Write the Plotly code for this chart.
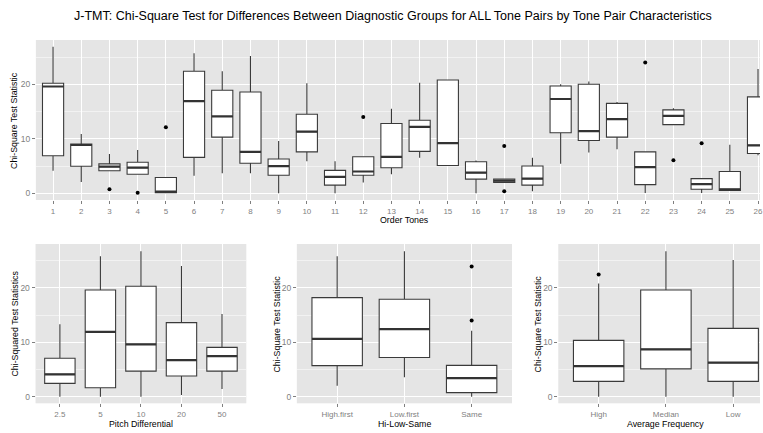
import plotly.graph_objects as go

W, H = 763, 433

# ---------------- data ----------------
order_tones = list(range(1, 27))
ot_lo  = [4.15, 2.07, 4.15, 3.5, 0.1, 3.2, 3.7, 3.7, 0.0, 5.9, 0.0, 2.0, 3.5, 6.5, 5.1, 0.0, 2.0, 0.37, 5.4, 7.5, 8.1, 0.05, 12.6, 0.05, 0.5, 7.0]
ot_q1  = [6.9, 4.95, 4.15, 3.5, 0.1, 6.6, 10.3, 5.5, 3.3, 7.6, 1.5, 3.3, 4.7, 7.7, 5.1, 2.6, 2.0, 1.5, 11.1, 9.7, 10.3, 1.6, 12.6, 0.73, 0.5, 7.3]
ot_med = [19.6, 8.86, 4.9, 4.7, 0.3, 16.9, 14.1, 7.6, 5.0, 11.3, 3.0, 4.0, 6.7, 12.2, 9.2, 3.8, 2.3, 2.7, 17.3, 11.4, 13.6, 4.8, 14.2, 1.7, 0.73, 8.8]
ot_q3  = [20.2, 9.05, 5.4, 5.7, 2.9, 22.4, 18.9, 18.6, 6.3, 14.5, 4.2, 6.7, 12.8, 13.4, 20.8, 5.8, 2.6, 5.0, 19.7, 20.0, 16.5, 7.6, 15.3, 2.7, 4.0, 17.7]
ot_hi  = [26.9, 10.9, 7.2, 7.95, 2.9, 25.7, 22.4, 25.2, 9.6, 20.2, 5.9, 6.7, 15.5, 20.3, 20.8, 6.0, 2.6, 6.5, 20.0, 20.5, 16.75, 7.6, 15.6, 2.7, 8.9, 22.8]
ot_out_x = [3, 4, 5, 12, 17, 17, 22, 23, 24]
ot_out_y = [0.73, 0.1, 12.1, 14.0, 8.7, 0.37, 24.0, 6.05, 9.2]

pitch_cats = ["2.5", "5", "10", "20", "50"]
pd_lo  = [0.0, 0.0, 0.0, 0.3, 1.4]
pd_q1  = [2.45, 1.65, 4.7, 3.8, 4.7]
pd_med = [4.1, 11.9, 9.6, 6.7, 7.45]
pd_q3  = [7.05, 19.6, 20.3, 13.6, 9.05]
pd_hi  = [13.3, 25.8, 26.7, 24.0, 15.2]
pd_out_x, pd_out_y = [], []

hls_cats = ["High.first", "Low.first", "Same"]
hl_lo  = [2.0, 3.55, 0.0]
hl_q1  = [5.7, 7.2, 0.75]
hl_med = [10.6, 12.4, 3.4]
hl_q3  = [18.2, 17.9, 5.75]
hl_hi  = [25.8, 26.7, 12.1]
hl_out_x = ["Same", "Same"]
hl_out_y = [23.9, 14.0]

freq_cats = ["High", "Median", "Low"]
af_lo  = [0.0, 0.0, 0.0]
af_q1  = [2.8, 5.1, 2.8]
af_med = [5.6, 8.7, 6.25]
af_q3  = [10.35, 19.6, 12.55]
af_hi  = [20.8, 26.7, 25.1]
af_out_x = ["High"]
af_out_y = [22.45]

# ---------------- styling ----------------
BOX_LINE = "#3a3a3a"
TICK_COL = "#7F7F7F"
FONT = "Liberation Sans, Arial, sans-serif"
BW = 0.75

fig = go.Figure()

def px_x(p):
    return p / W

def px_y(p):
    return 1 - p / H

def add_panel(idx, cats, lo, q1, med, q3, hi, out_x, out_y):
    pos = list(range(1, len(cats) + 1))
    xa = "x" if idx == 1 else f"x{idx}"
    ya = "y" if idx == 1 else f"y{idx}"
    fig.add_trace(go.Box(
        x=pos, q1=q1, median=med, q3=q3, lowerfence=lo, upperfence=hi,
        width=BW, fillcolor="white", line=dict(color=BOX_LINE, width=1.1),
        whiskerwidth=0, boxpoints=False, xaxis=xa, yaxis=ya, showlegend=False,
        hoverinfo="skip"))
    mx, my = [], []
    for p, m in zip(pos, med):
        mx += [p - BW / 2, p + BW / 2, None]
        my += [m, m, None]
    fig.add_trace(go.Scatter(x=mx, y=my, mode="lines",
                             line=dict(color="#333333", width=2.2),
                             xaxis=xa, yaxis=ya, showlegend=False, hoverinfo="skip"))
    if out_x:
        ox = [cats.index(c) + 1 for c in out_x]
        fig.add_trace(go.Scatter(x=ox, y=out_y, mode="markers",
                                 marker=dict(color="black", size=4),
                                 xaxis=xa, yaxis=ya, showlegend=False, hoverinfo="skip"))

add_panel(1, order_tones, ot_lo, ot_q1, ot_med, ot_q3, ot_hi, ot_out_x, ot_out_y)
add_panel(2, pitch_cats, pd_lo, pd_q1, pd_med, pd_q3, pd_hi, pd_out_x, pd_out_y)
add_panel(3, hls_cats, hl_lo, hl_q1, hl_med, hl_q3, hl_hi, hl_out_x, hl_out_y)
add_panel(4, freq_cats, af_lo, af_q1, af_med, af_q3, af_hi, af_out_x, af_out_y)

def xaxis(domain, rng, labels, anchor):
    return dict(domain=domain, range=rng, tickmode="array",
                tickvals=list(range(1, len(labels) + 1)),
                ticktext=[str(l) for l in labels],
                showgrid=True, gridcolor="white", gridwidth=1.1, zeroline=False,
                showline=False, ticks="outside", ticklen=3, tickcolor=TICK_COL,
                tickwidth=1, tickfont=dict(size=8, color=TICK_COL, family=FONT),
                ticklabeloverflow="allow",
                anchor=anchor, fixedrange=True)

def yaxis(domain, rng, anchor):
    return dict(domain=domain, range=rng, tickmode="array", tickvals=[0, 10, 20],
                showgrid=True, gridcolor="white", gridwidth=1.1, zeroline=False,
                showline=False, ticks="outside", ticklen=3, tickcolor=TICK_COL,
                tickwidth=1, tickfont=dict(size=8.5, color=TICK_COL, family=FONT),
                minor=dict(tickvals=[5, 15, 25], showgrid=True, gridcolor="#F2F2F2",
                           gridwidth=0.6, ticks=""),
                anchor=anchor, fixedrange=True)

top_dom_y = [px_y(200), px_y(40)]
bot_dom_y = [px_y(403.3), px_y(244)]

fig.update_layout(
    width=W, height=H, margin=dict(l=0, r=0, t=0, b=0),
    paper_bgcolor="white", plot_bgcolor="#E5E5E5",
    font=dict(family=FONT, color="black"),
    xaxis=xaxis([px_x(36), 1.0], [0.39, 26.07], order_tones, "y"),
    yaxis=yaxis(top_dom_y, [-1.23, 28.13], "x"),
    xaxis2=xaxis([px_x(35.7), px_x(247.3)], [0.4, 5.6], pitch_cats, "y2"),
    yaxis2=yaxis(bot_dom_y, [-1.22, 28.05], "x2"),
    xaxis3=xaxis([px_x(298), px_x(514)], [0.4, 3.6], hls_cats, "y3"),
    yaxis3=yaxis(bot_dom_y, [-1.22, 28.05], "x3"),
    xaxis4=xaxis([px_x(560.5), 1.0], [0.4, 3.0 + (763 - 736) / 67.7], freq_cats, "y4"),
    yaxis4=yaxis(bot_dom_y, [-1.22, 28.05], "x4"),
)

ann = []
def text(x, y, s, size, angle=0):
    ann.append(dict(x=px_x(x), y=px_y(y), xref="paper", yref="paper", text=s,
                    showarrow=False, textangle=angle, xanchor="center", yanchor="middle",
                    font=dict(size=size, color="black", family=FONT)))

text(395, 16, "J-TMT: Chi-Square Test for Differences Between Diagnostic Groups for ALL Tone Pairs by Tone Pair Characteristics", 12.5)
text(406, 220, "Order Tones", 8.8)
text(14, 120, "Chi-Square Test Statistic", 8.8, -90)
text(141.5, 424, "Pitch Differential", 8.8)
text(15, 323.6, "Chi-Squared Test Statistics", 8.8, -90)
text(406, 424, "Hi-Low-Same", 8.8)
text(278, 323.6, "Chi-Square Test Statistic", 8.8, -90)
text(668, 424, "Average Frequency", 8.8)
text(540, 323.6, "Chi-Square Test Statistic", 8.8, -90)
fig.update_layout(annotations=ann)

fig.write_html("out.html")
